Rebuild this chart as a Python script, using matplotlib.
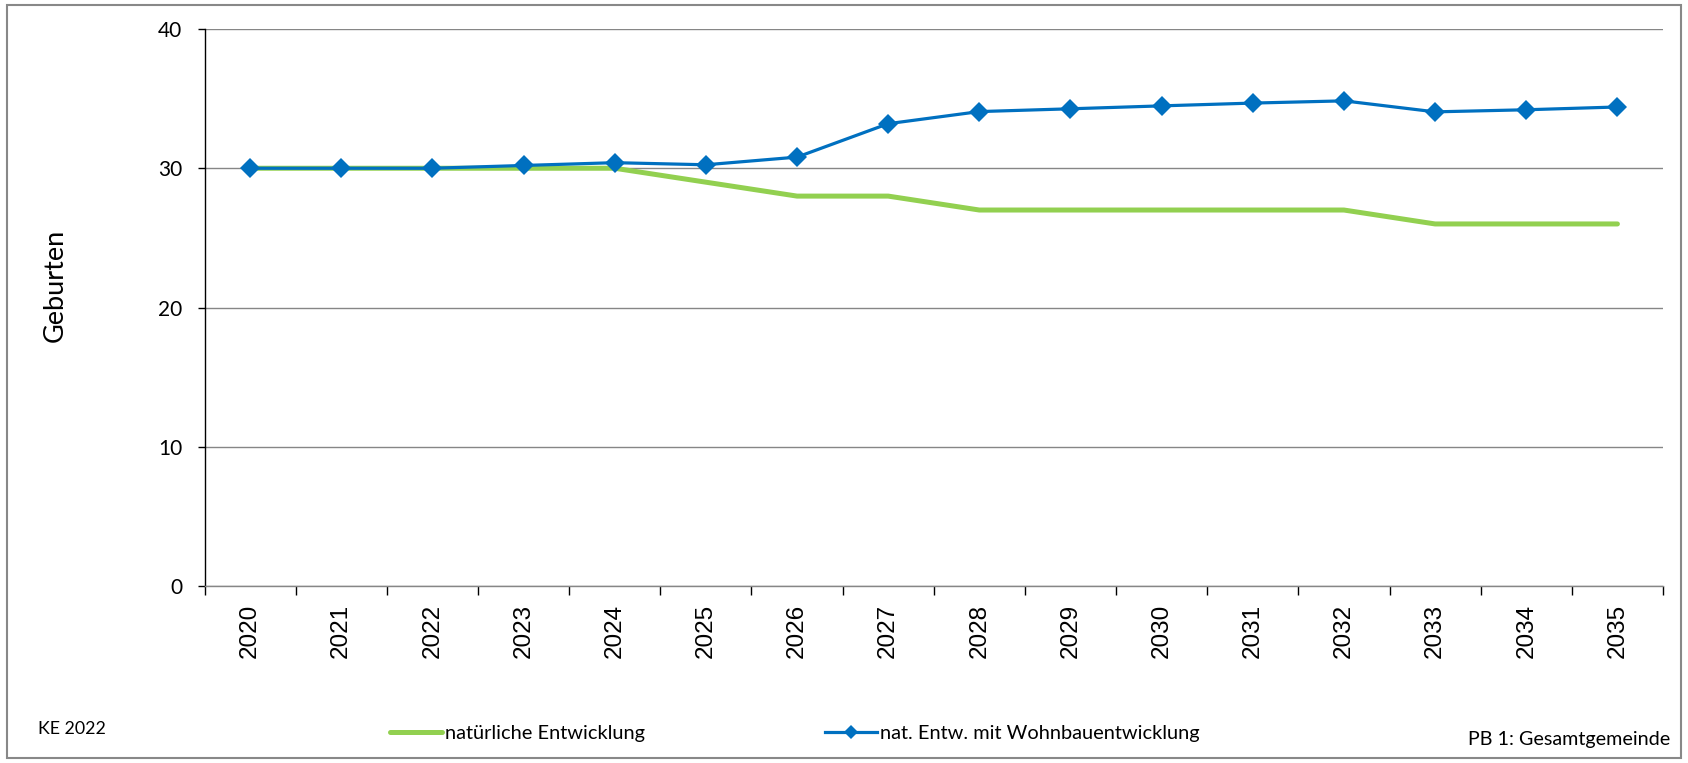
import matplotlib
matplotlib.use("Agg")
import matplotlib.pyplot as plt
from matplotlib.patches import Rectangle
import numpy as np

years = ["2020", "2021", "2022", "2023", "2024", "2025", "2026", "2027",
         "2028", "2029", "2030", "2031", "2032", "2033", "2034", "2035"]
natuerlich = [30, 30, 30, 30, 30, 29, 28, 28, 27, 27, 27, 27, 27, 26, 26, 26]
wohnbau = [30, 30, 30, 30.2, 30.4, 30.25, 30.8, 33.2, 34.07, 34.27, 34.48,
           34.68, 34.84, 34.05, 34.2, 34.4]
yticks = [0, 10, 20, 30, 40]

plt.rcParams['font.family'] = ['Lato', 'DejaVu Sans']

fig = plt.figure(figsize=(16.88, 7.63), dpi=100)
ax = fig.add_axes([204.5/1688, 1-586/763, (1663-204.5)/1688, (586-29)/763])

x = np.arange(len(years))
ln1, = ax.plot(x, natuerlich, color='#92D050', lw=3.6, solid_capstyle='round',
               solid_joinstyle='round', label='natürliche Entwicklung', zorder=3)
ln2, = ax.plot(x, wohnbau, color='#0070C0', lw=2.3, marker='D', markersize=10,
               markeredgewidth=0, label='nat. Entw. mit Wohnbauentwicklung', zorder=4)

ax.set_xlim(-0.5, len(years) - 0.5)
ax.set_ylim(0, 40)
ax.set_yticks(yticks)
ax.set_yticklabels([str(v) for v in yticks])
ax.yaxis.grid(True, color='#868686', lw=1.0)
ax.set_axisbelow(True)
ax.set_xticks(x)
ax.set_xticklabels(years, rotation=90, family=['Liberation Sans', 'DejaVu Sans'])
ax.set_xticks(np.arange(-0.5, len(years)), minor=True)
ax.tick_params(axis='x', which='major', length=0, pad=13, labelsize=17.5)
ax.tick_params(axis='x', which='minor', length=6.5, width=1, color='black')
ax.tick_params(axis='y', length=5, width=1, pad=11, labelsize=15)
for s in ['top', 'right']:
    ax.spines[s].set_visible(False)
ax.spines['left'].set_color('black')
ax.spines['bottom'].set_color('#868686')
ax.spines['left'].set_linewidth(1)
ax.spines['bottom'].set_linewidth(1)

fig.text(55/1688, 1-285/763, 'Geburten', rotation=90, ha='center', va='center', fontsize=19.5)
fig.text(38/1688, 1-729/763, 'KE 2022', ha='left', va='center', fontsize=12.8)
fig.text(1670/1688, 1-739/763, 'PB 1: Gesamtgemeinde', ha='right', va='center', fontsize=14.2)

leg = fig.legend(handles=[ln1, ln2], loc='center left', bbox_to_anchor=(390/1688, 1-733/763),
                 ncol=2, frameon=False, fontsize=14.4, handlelength=2.6, handletextpad=0.15,
                 columnspacing=9, borderaxespad=0, borderpad=0)
for h in leg.legend_handles:
    if h.get_marker() == 'D':
        h.set_markersize(7)

fig.add_artist(Rectangle((7/1688, 5/763), 1674/1688, 753/763, transform=fig.transFigure,
                         fill=False, edgecolor='#888888', lw=1.5))

fig.savefig('out.png', dpi=100)
